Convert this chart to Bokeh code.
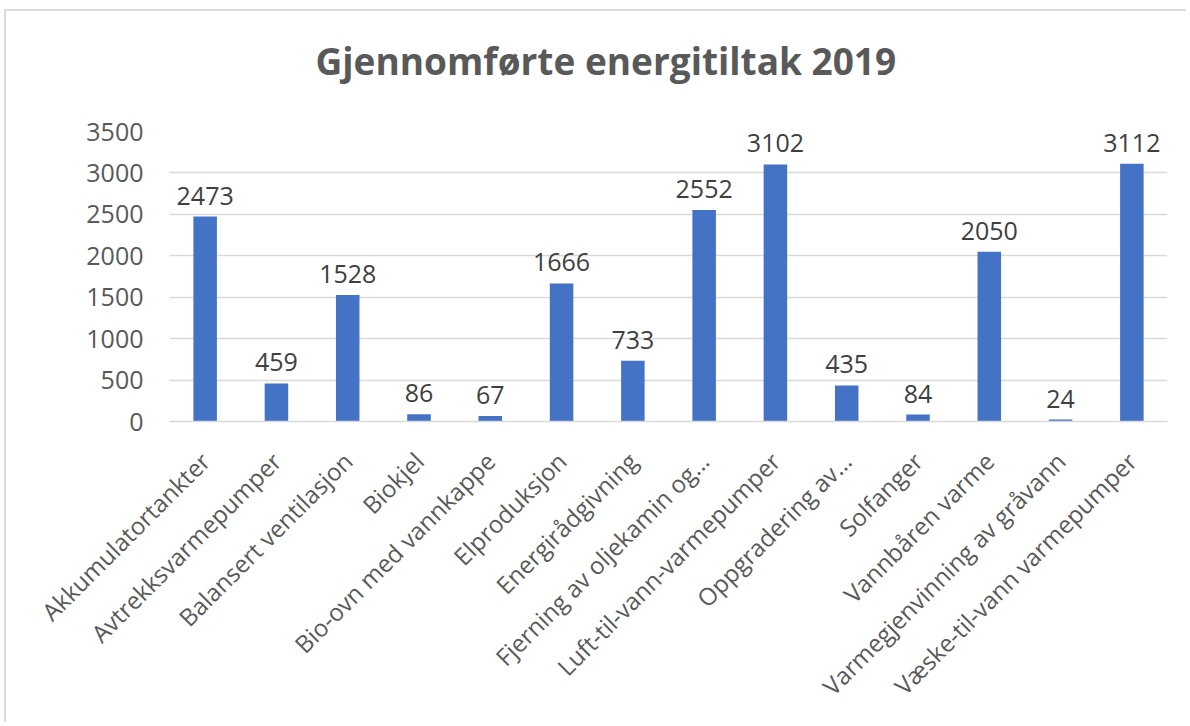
import math
from bokeh.plotting import figure
from bokeh.models import ColumnDataSource, Range1d, FixedTicker, Title
from bokeh.core.properties import value
from bokeh.embed import file_html
from bokeh.resources import INLINE

categories = [
    "Akkumulatortankter",
    "Avtrekksvarmepumper",
    "Balansert ventilasjon",
    "Biokjel",
    "Bio-ovn med vannkappe",
    "Elproduksjon",
    "Energirådgivning",
    "Fjerning av oljekamin og…",
    "Luft-til-vann-varmepumper",
    "Oppgradering av…",
    "Solfanger",
    "Vannbåren varme",
    "Varmegjenvinning av gråvann",
    "Væske-til-vann varmepumper",
]
values = [2473, 459, 1528, 86, 67, 1666, 733, 2552, 3102, 435, 84, 2050, 24, 3112]
y_ticks = [0, 500, 1000, 1500, 2000, 2500, 3000, 3500]
title_text = "Gjennomførte energitiltak 2019"

FONT = "Open Sans"
GREY = "#595959"

src = ColumnDataSource(dict(cat=categories, val=values, lab=[str(v) for v in values]))

p = figure(
    x_range=categories,
    y_range=Range1d(0, 3500),
    width=1182, height=713,
    output_backend="svg", toolbar_location=None,
    min_border_left=163, min_border_right=21,
    min_border_top=120, min_border_bottom=303,
)
p.title.text = ""
p.outline_line_color = None
p.background_fill_color = "white"
p.border_fill_color = "white"
p.styles = {"margin-left": "4px", "margin-top": "9px",
            "border-left": "2px solid #dcdcdc", "border-top": "2px solid #dcdcdc"}

# spacer between title and plot area, then the title itself
p.add_layout(Title(text=" ", text_font_size="1px", standoff=43), "above")
p.add_layout(Title(text=title_text, align="left", offset=146, standoff=0,
                   text_font=FONT, text_font_size="37px", text_font_style="bold",
                   text_color=GREY, vertical_align="bottom"), "above")

p.vbar(x="cat", top="val", width=0.33, source=src, color="#4472C4", line_color=None)
p.text(x="cat", y="val", text="lab", source=src, text_align="center",
       text_baseline="alphabetic", y_offset=-21, text_font=value(FONT),
       text_font_size="25px", text_color="#404040")

p.xgrid.grid_line_color = None
p.ygrid.grid_line_color = "#d9d9d9"
p.ygrid.grid_line_width = 1.5
p.yaxis.ticker = FixedTicker(ticks=y_ticks)
p.yaxis.axis_line_color = None
p.yaxis.major_tick_line_color = None
p.yaxis.minor_tick_line_color = None
p.yaxis.major_tick_out = 0
p.yaxis.major_label_standoff = 26
p.yaxis.major_label_text_font = FONT
p.yaxis.major_label_text_font_size = "25px"
p.yaxis.major_label_text_color = GREY

p.xaxis.axis_line_color = "#d9d9d9"
p.xaxis.axis_line_width = 1.5
p.xaxis.major_tick_line_color = None
p.xaxis.major_tick_out = 0
p.xaxis.major_label_standoff = 35
p.xaxis.major_label_orientation = math.pi / 4
p.xaxis.major_label_text_font = FONT
p.xaxis.major_label_text_font_size = "24px"
p.xaxis.major_label_text_color = GREY
p.x_range.range_padding = 0

open("out.html", "w").write(file_html(p, INLINE))
